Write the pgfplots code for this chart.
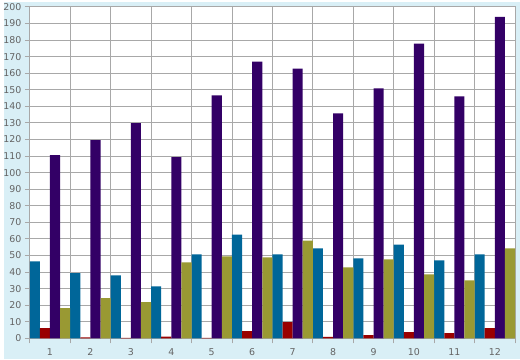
\documentclass[border=0pt]{standalone}
\usepackage{pgfplots}
\pgfplotsset{compat=1.18}
\usepackage{fontspec}
\setmainfont{DejaVu Sans}
\definecolor{bgc}{RGB}{217,239,246}
\definecolor{gridc}{RGB}{168,168,168}
\definecolor{txt}{RGB}{100,100,100}
\definecolor{sblue}{RGB}{0,102,153}
\definecolor{sred}{RGB}{153,0,0}
\definecolor{spurple}{RGB}{51,0,102}
\definecolor{solive}{RGB}{153,153,51}
\begin{document}
\begin{tikzpicture}[x=1pt,y=1pt]
\fill[bgc] (0,0) rectangle (520,360);
\begin{axis}[
  at={(26pt,20.7pt)}, anchor=south west,
  scale only axis, width=489pt, height=334pt,
  xmin=0.5, xmax=12.5, ymin=0, ymax=200,
  ybar=0pt, bar width=10.19pt,
  axis background/.style={fill=white},
  axis line style={gridc, line width=0.8pt},
  xtick={0.5,1.5,...,12.5}, xticklabels={},
  extra x ticks={1,2,...,12},
  extra x tick labels={1,2,3,4,5,6,7,8,9,10,11,12},
  extra x tick style={grid=none, major tick length=0pt},
  ytick={0,10,...,200},
  xmajorgrids, ymajorgrids,
  grid style={gridc, line width=0.8pt},
  tick style={gridc, line width=0.8pt},
  tick align=outside, major tick length=5pt,
  xtick pos=bottom, ytick pos=left,
  ticklabel style={font=\fontsize{9.5}{10}\selectfont, text=txt},
  xticklabel style={yshift=-7pt},
  /pgf/number format/assume math mode=true,
  clip=false,
]
\addplot[fill=sblue, draw=none] coordinates {(1,46.4) (2,39.4) (3,38) (4,31.4) (5,50.6) (6,62.6) (7,50.6) (8,54.2) (9,48.2) (10,56.6) (11,47) (12,50.6)};
\addplot[fill=sred, draw=none] coordinates {(1,6.2) (2,0.6) (3,0.3) (4,1.0) (5,0.3) (6,4.4) (7,9.8) (8,0.8) (9,2) (10,3.8) (11,3.2) (12,6.2)};
\addplot[fill=spurple, draw=none] coordinates {(1,110.6) (2,119.6) (3,129.8) (4,109.4) (5,146.6) (6,167) (7,162.8) (8,135.8) (9,150.8) (10,177.8) (11,146) (12,194)};
\addplot[fill=solive, draw=none] coordinates {(1,18.2) (2,24.2) (3,21.8) (4,45.8) (5,49.4) (6,48.8) (7,59) (8,42.8) (9,47.6) (10,38.6) (11,35) (12,54.2)};
\end{axis}
\end{tikzpicture}
\end{document}
